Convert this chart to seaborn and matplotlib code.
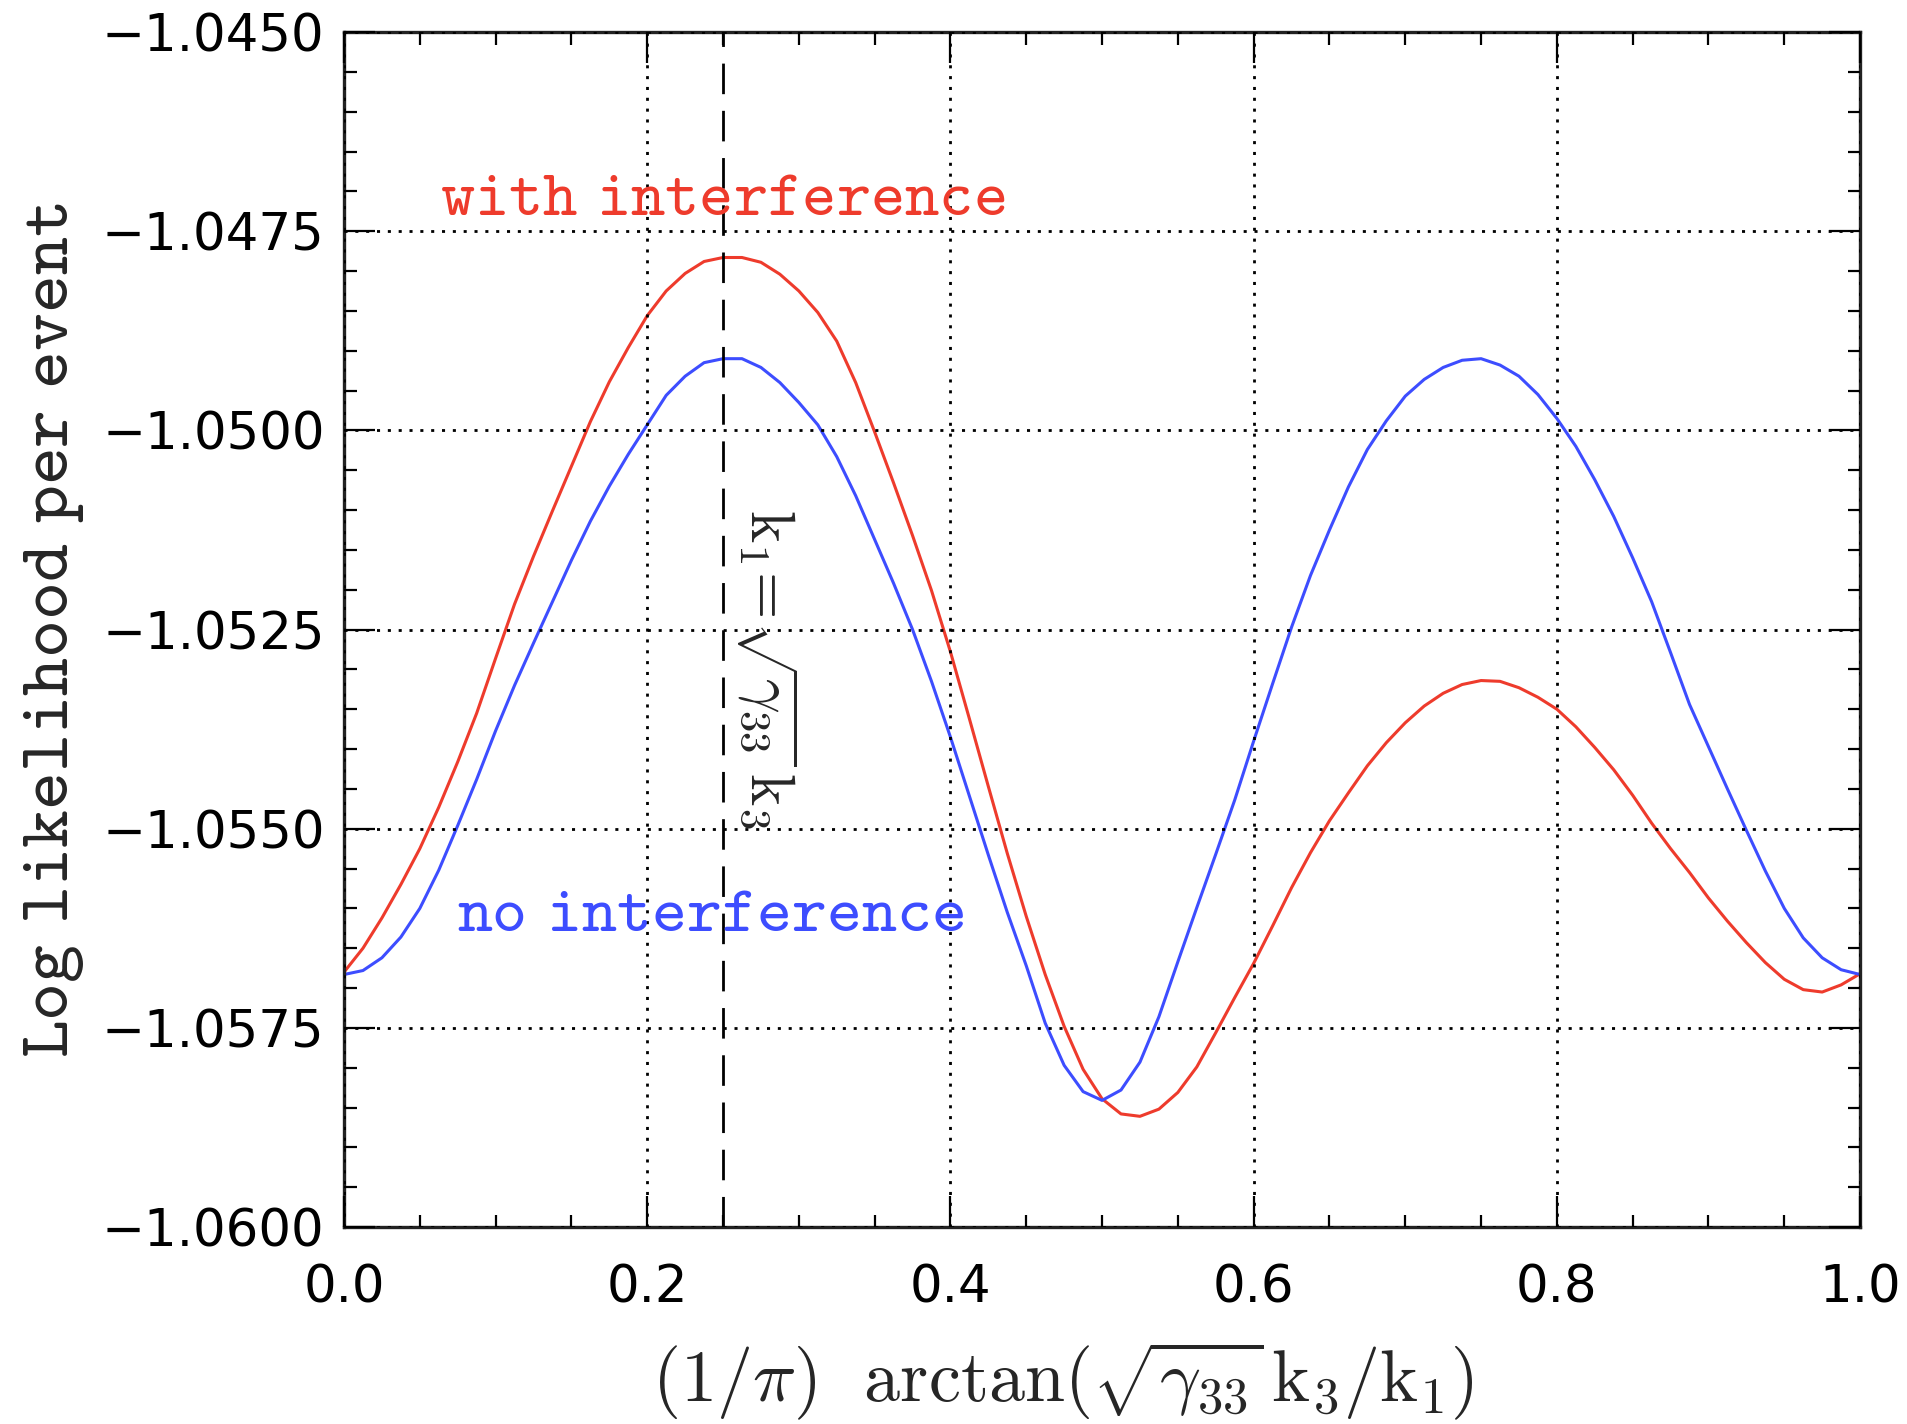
import numpy as np
import pandas as pd
import matplotlib
matplotlib.use("Agg")
import matplotlib.pyplot as plt
import matplotlib.ticker as mtick
import seaborn as sns

# data (x step 0.0125)
X_VALS = [0.0000, 0.0125, 0.0250, 0.0375, 0.0500, 0.0625, 0.0750, 0.0875, 0.1000,
          0.1125, 0.1250, 0.1375, 0.1500, 0.1625, 0.1750, 0.1875, 0.2000, 0.2125,
          0.2250, 0.2375, 0.2500, 0.2625, 0.2750, 0.2875, 0.3000, 0.3125, 0.3250,
          0.3375, 0.3500, 0.3625, 0.3750, 0.3875, 0.4000, 0.4125, 0.4250, 0.4375,
          0.4500, 0.4625, 0.4750, 0.4875, 0.5000, 0.5125, 0.5250, 0.5375, 0.5500,
          0.5625, 0.5750, 0.5875, 0.6000, 0.6125, 0.6250, 0.6375, 0.6500, 0.6625,
          0.6750, 0.6875, 0.7000, 0.7125, 0.7250, 0.7375, 0.7500, 0.7625, 0.7750,
          0.7875, 0.8000, 0.8125, 0.8250, 0.8375, 0.8500, 0.8625, 0.8750, 0.8875,
          0.9000, 0.9125, 0.9250, 0.9375, 0.9500, 0.9625, 0.9750, 0.9875, 1.0000]

WITH_INTERF = [-1.05680, -1.05650, -1.05612, -1.05570, -1.05525, -1.05473, -1.05416,
               -1.05355, -1.05286, -1.05218, -1.05158, -1.05101, -1.05045, -1.04989,
               -1.04939, -1.04896, -1.04856, -1.04825, -1.04803, -1.04788, -1.04783,
               -1.04783, -1.04789, -1.04804, -1.04825, -1.04852, -1.04888, -1.04940,
               -1.05002, -1.05066, -1.05132, -1.05201, -1.05278, -1.05362, -1.05447,
               -1.05531, -1.05610, -1.05683, -1.05748, -1.05802, -1.05839, -1.05858,
               -1.05861, -1.05852, -1.05831, -1.05799, -1.05756, -1.05712, -1.05669,
               -1.05622, -1.05574, -1.05530, -1.05490, -1.05455, -1.05421, -1.05392,
               -1.05367, -1.05346, -1.05330, -1.05319, -1.05314, -1.05315, -1.05323,
               -1.05335, -1.05350, -1.05372, -1.05398, -1.05426, -1.05458, -1.05493,
               -1.05525, -1.05555, -1.05587, -1.05616, -1.05643, -1.05668, -1.05689,
               -1.05702, -1.05705, -1.05696, -1.05682]

NO_INTERF = [-1.05683, -1.05678, -1.05662, -1.05636, -1.05600, -1.05552, -1.05496,
             -1.05438, -1.05377, -1.05320, -1.05267, -1.05215, -1.05163, -1.05114,
             -1.05070, -1.05030, -1.04993, -1.04956, -1.04932, -1.04915, -1.04910,
             -1.04910, -1.04921, -1.04940, -1.04965, -1.04993, -1.05033, -1.05082,
             -1.05137, -1.05192, -1.05250, -1.05315, -1.05385, -1.05459, -1.05533,
             -1.05605, -1.05672, -1.05744, -1.05797, -1.05830, -1.05841, -1.05828,
             -1.05793, -1.05736, -1.05667, -1.05599, -1.05532, -1.05464, -1.05390,
             -1.05318, -1.05247, -1.05182, -1.05125, -1.05071, -1.05024, -1.04988,
             -1.04957, -1.04936, -1.04921, -1.04912, -1.04910, -1.04918, -1.04932,
             -1.04955, -1.04985, -1.05020, -1.05062, -1.05108, -1.05160, -1.05215,
             -1.05279, -1.05344, -1.05397, -1.05450, -1.05502, -1.05553, -1.05600,
             -1.05637, -1.05662, -1.05677, -1.05683]

SYMMETRY_X = 0.25

RED = "#ee3b2c"
BLUE = "#3d4dff"

# style
sns.set_style("ticks")
plt.rcParams.update({
    "font.family": ["DejaVu Sans"],
    "mathtext.fontset": "cm",
    "axes.unicode_minus": True,
})

df = pd.DataFrame({
    "x": X_VALS * 2,
    "logl": WITH_INTERF + NO_INTERF,
    "curve": ["with"] * len(X_VALS) + ["no"] * len(X_VALS),
})

fig = plt.figure(figsize=(19.07, 14.24), dpi=100)
ax = fig.add_axes([0.1804, 0.1383, 0.7950, 0.8392])

sns.lineplot(
    data=df, x="x", y="logl", hue="curve",
    palette={"with": RED, "no": BLUE},
    linewidth=2.2, legend=False, ax=ax, sort=False,
)

ax.set_xlim(0, 1)
ax.set_ylim(-1.060, -1.045)

ax.xaxis.set_major_locator(mtick.MultipleLocator(0.2))
ax.xaxis.set_minor_locator(mtick.MultipleLocator(0.05))
ax.yaxis.set_major_locator(mtick.MultipleLocator(0.0025))
ax.yaxis.set_minor_locator(mtick.MultipleLocator(0.0005))
ax.xaxis.set_major_formatter(mtick.FuncFormatter(lambda v, p: f"{v:.1f}"))
ax.yaxis.set_major_formatter(
    mtick.FuncFormatter(lambda v, p: f"{v:.4f}".replace("-", "\u2212")))

ax.tick_params(which="both", direction="in", top=True, right=True,
               colors="black", width=1.6)
ax.tick_params(which="major", length=22, labelsize=37, pad=14)
ax.tick_params(axis="x", which="major", pad=26)
ax.tick_params(which="minor", length=9)
for side in ax.spines.values():
    side.set_linewidth(2.4)
    side.set_color("#222222")

ax.grid(True, which="major", color="black", linestyle=(0, (1.1, 2.8)), linewidth=2.0)
ax.set_axisbelow(False)

# dashed line where k1 = sqrt(gamma33) k3
ax.axvline(SYMMETRY_X, color="black", linestyle=(0, (11, 6)), linewidth=2.0)

ax.set_xlabel(r"$(1/\pi)\ \ \mathrm{arctan}(\sqrt{\gamma_{33}}\,\mathrm{k}_3/\mathrm{k}_1)$",
              fontsize=52)
ax.xaxis.set_label_coords(0.474, -0.094)
ax.xaxis.label.set_va("top")
ax.set_ylabel(r"$\mathtt{Log\ likelihood\ per\ event}$", fontsize=52)
ax.yaxis.set_label_coords(-0.170, 0.5)

ax.text(0.063, -1.0473, r"$\mathtt{with\ interference}$", color=RED,
        fontsize=47, ha="left", va="baseline")
ax.text(0.0746, -1.05628, r"$\mathtt{no\ interference}$", color=BLUE,
        fontsize=48, ha="left", va="baseline")
ax.text(0.279, -1.0530, r"$\mathrm{k}_1\!=\!\sqrt{\gamma_{33}}\,\mathrm{k}_3$",
        fontsize=44, rotation=-90, ha="center", va="center")

fig.savefig("out.png", dpi=100)
plt.close(fig)
